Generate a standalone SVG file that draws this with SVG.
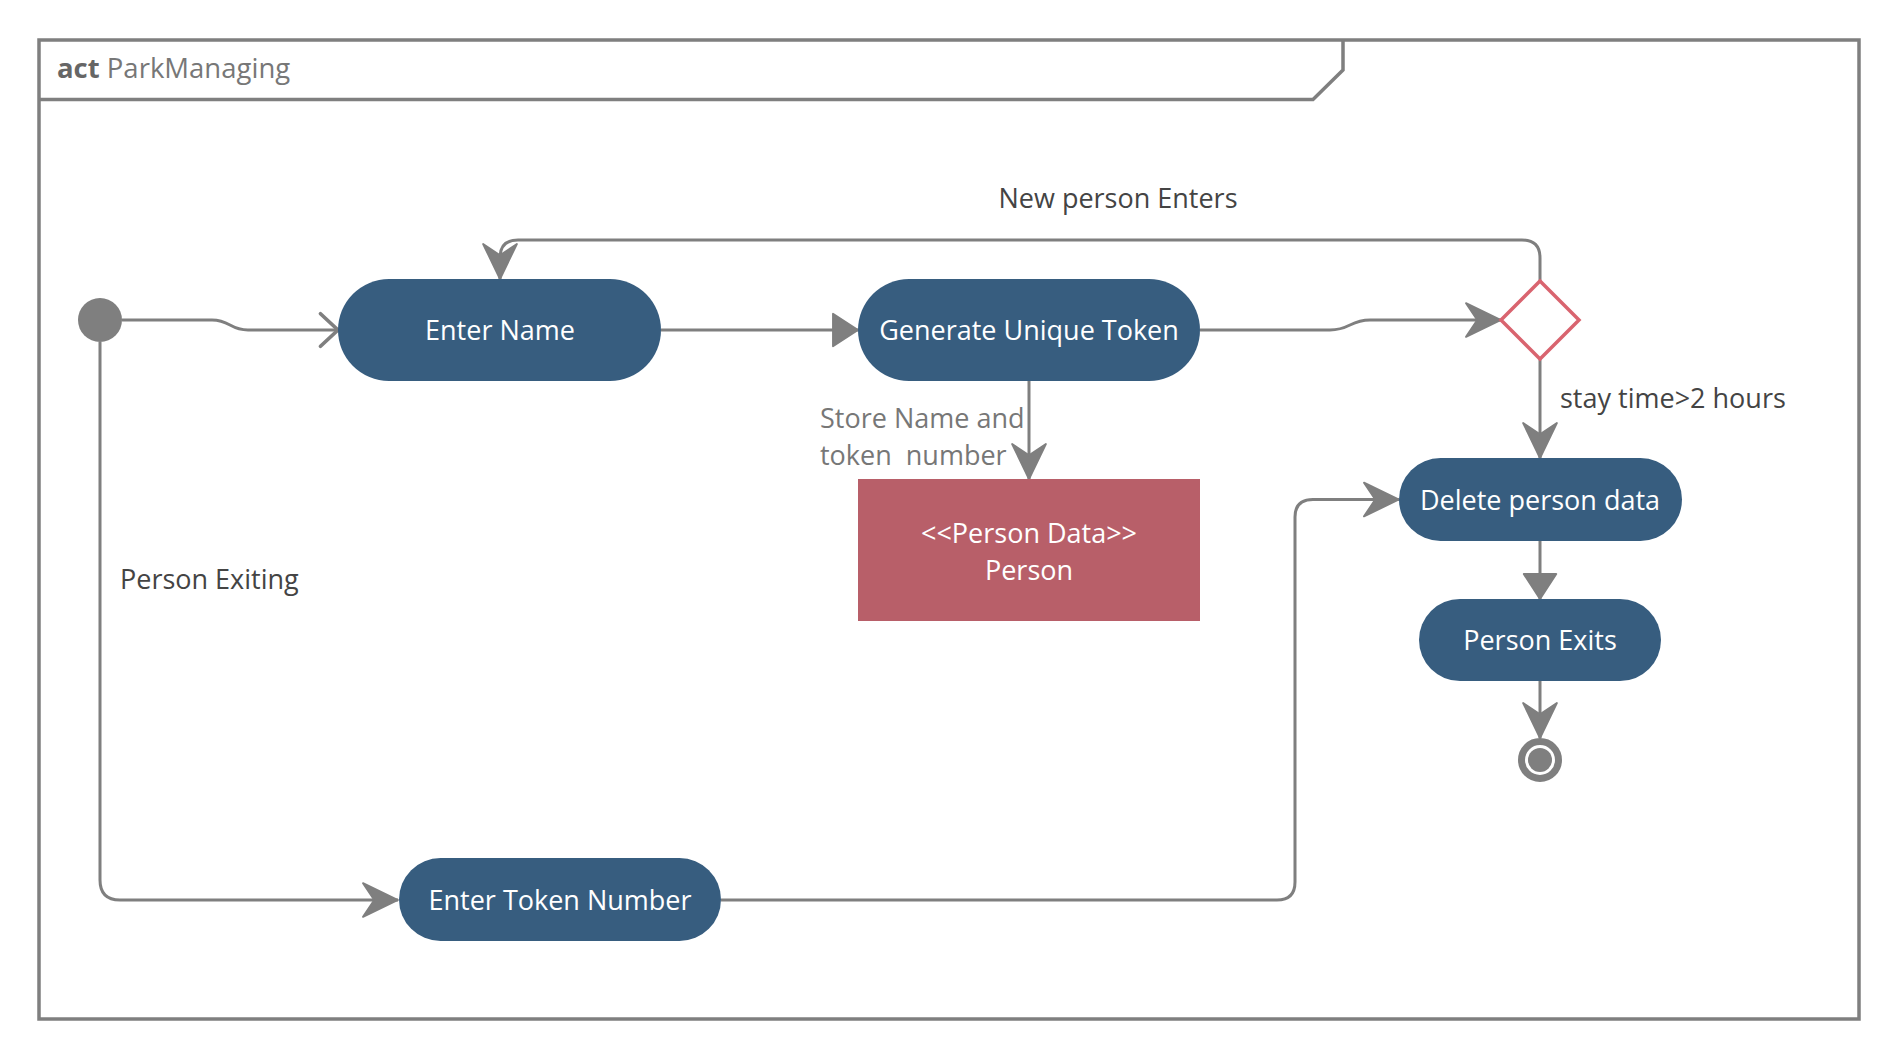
<svg xmlns="http://www.w3.org/2000/svg" width="1901" height="1060" viewBox="0 0 1901 1060">
<style>
  .frame{fill:none;stroke:#7f7f7f;stroke-width:3.5}
  .pill{fill:#375d7f}
  .ptxt{font-family:"Open Sans","Noto Sans",sans-serif;font-size:27px;fill:#ffffff;text-anchor:middle}
  .lbl{font-family:"Open Sans","Noto Sans",sans-serif;font-size:27px;fill:#444444}
  .lbl2{font-family:"Open Sans","Noto Sans",sans-serif;font-size:27px;fill:#777777}
  .edge{fill:none;stroke:#7f7f7f;stroke-width:3}
</style>
<defs>
  <marker id="barb" markerUnits="userSpaceOnUse" markerWidth="40" markerHeight="40" viewBox="-30 -16 32 32" refX="0" refY="0" orient="auto">
    <path d="M0,0 L-28,-13.5 L-19,0 L-28,13.5 Z" fill="#7f7f7f" stroke="#7f7f7f" stroke-width="1.5" stroke-linejoin="round"/>
  </marker>
  <marker id="tri" markerUnits="userSpaceOnUse" markerWidth="40" markerHeight="40" viewBox="-24 -16 26 32" refX="0" refY="0" orient="auto">
    <path d="M0,0 L-20,-13 L-20,13 Z" fill="#7f7f7f" stroke="#7f7f7f" stroke-width="1.5" stroke-linejoin="round"/>
  </marker>
  <marker id="open" markerUnits="userSpaceOnUse" markerWidth="40" markerHeight="40" viewBox="-20 -16 22 32" refX="0" refY="0" orient="auto">
    <path d="M-14,-13 L0,0 L-14,13" fill="none" stroke="#7f7f7f" stroke-width="3" stroke-linecap="round" stroke-linejoin="round"/>
  </marker>
</defs>
<rect width="1901" height="1060" fill="#ffffff"/>
<g id="frame">
  <rect class="frame" x="39" y="40" width="1820" height="979"/>
  <path class="frame" d="M39,99.5 L1313,99.5 L1343,70 L1343,40"/>
  <text x="57" y="78" font-family="'Open Sans','Noto Sans',sans-serif" font-size="27.5"><tspan font-weight="bold" fill="#666666">act</tspan><tspan fill="#777777"> ParkManaging</tspan></text>
</g>
<g id="connectors">
  <path class="edge" d="M122,320 L212,320 C230,320 230,330 248,330 L338,330" marker-end="url(#open)"/>
  <path class="edge" d="M661,330 L858,330" marker-end="url(#tri)"/>
  <path class="edge" d="M1200,330 L1330,330 C1350,330 1350,320 1370,320 L1501,320" marker-end="url(#barb)"/>
  <path class="edge" d="M1540,281 L1540,258 Q1540,240 1522,240 L518,240 Q500,240 500,258 L500,279" marker-end="url(#barb)"/>
  <path class="edge" d="M1029,381 L1029,479" marker-end="url(#barb)"/>
  <path class="edge" d="M1540,359 L1540,458" marker-end="url(#barb)"/>
  <path class="edge" d="M1540,541 L1540,599" marker-end="url(#tri)"/>
  <path class="edge" d="M1540,681 L1540,738" marker-end="url(#barb)"/>
  <path class="edge" d="M100,342 L100,880 Q100,900 120,900 L398,900" marker-end="url(#barb)"/>
  <path class="edge" d="M721,900 L1277,900 Q1295,900 1295,882 L1295,517 Q1295,499.5 1313,499.5 L1399,499.5" marker-end="url(#barb)"/>
  <text class="lbl" x="1118" y="208" text-anchor="middle">New person Enters</text>
  <text class="lbl2" x="820" y="428">Store Name and</text>
  <text class="lbl2" x="820" y="465" xml:space="preserve">token  number</text>
  <text class="lbl" x="1560" y="408">stay time&gt;2 hours</text>
  <text class="lbl" x="120" y="589">Person Exiting</text>
</g>
<g id="start">
  <circle cx="100" cy="320" r="22" fill="#7f7f7f"/>
</g>
<g id="enter-name">
  <rect class="pill" x="338" y="279" width="323" height="102" rx="51" ry="51"/>
  <text class="ptxt" x="500" y="340">Enter Name</text>
</g>
<g id="generate-token">
  <rect class="pill" x="858" y="279" width="342" height="102" rx="51" ry="51"/>
  <text class="ptxt" x="1029" y="340">Generate Unique Token</text>
</g>
<g id="person-data">
  <rect x="858" y="479" width="342" height="142" fill="#b85f69"/>
  <text class="ptxt" x="1029" y="543">&lt;&lt;Person Data&gt;&gt;</text>
  <text class="ptxt" x="1029" y="580">Person</text>
</g>
<g id="decision">
  <polygon points="1540,281 1579,320 1540,359 1501,320" fill="#ffffff" stroke="#d9646f" stroke-width="3.5"/>
</g>
<g id="delete-data">
  <rect class="pill" x="1399" y="458" width="283" height="83" rx="41.5" ry="41.5"/>
  <text class="ptxt" x="1540" y="510">Delete person data</text>
</g>
<g id="person-exits">
  <rect class="pill" x="1419" y="599" width="242" height="82" rx="41" ry="41"/>
  <text class="ptxt" x="1540" y="650">Person Exits</text>
</g>
<g id="enter-token">
  <rect class="pill" x="399" y="858" width="322" height="83" rx="41.5" ry="41.5"/>
  <text class="ptxt" x="560" y="910">Enter Token Number</text>
</g>
<g id="final">
  <circle cx="1540" cy="760" r="18.5" fill="#ffffff" stroke="#7f7f7f" stroke-width="7"/>
  <circle cx="1540" cy="760" r="12" fill="#7f7f7f"/>
</g>
</svg>
